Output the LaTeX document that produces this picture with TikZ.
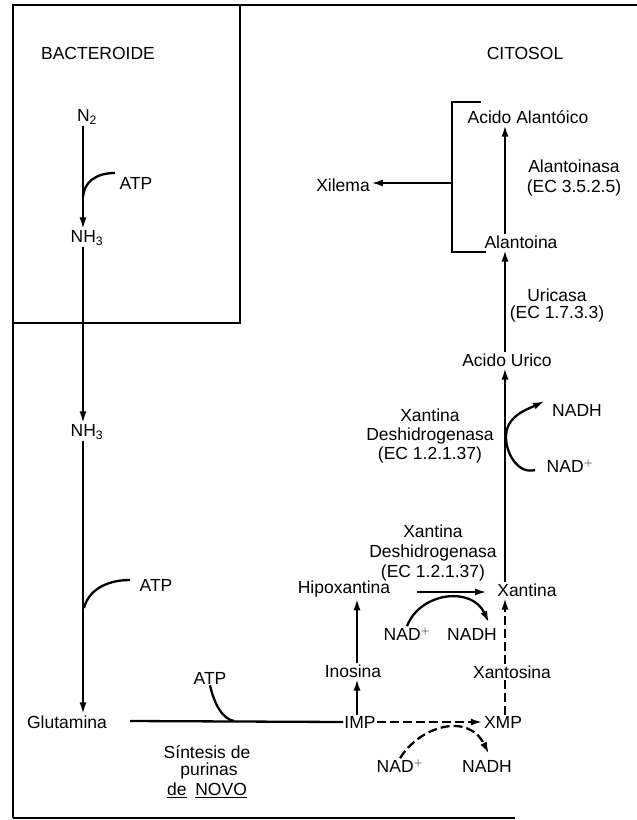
\documentclass[tikz,border=0pt]{standalone}
\usepackage{fontspec}
\setmainfont{Liberation Sans}
\usetikzlibrary{arrows.meta}
\begin{document}
\begin{tikzpicture}[x=1pt,y=-1pt,
  every node/.style={font=\fontsize{17.5}{19}\selectfont, inner sep=1pt},
  ln/.style={line width=2.3pt},
  arr/.style={ln, -{Latex[length=12pt,width=7pt]}},
  darr/.style={arr, dash pattern=on 9pt off 4pt},
  dln/.style={ln, dash pattern=on 9pt off 4pt},
  frame/.style={line width=2.6pt}]
\useasboundingbox (0,0) rectangle (637,820);
% frames
\draw[frame] (13,818) -- (13,5) -- (637,5);
\draw[frame] (13,818) -- (515,818);
\draw[frame] (13,323) -- (240,323) -- (240,5);
% column coordinates
\coordinate (cA) at (83,0);
\coordinate (cB) at (357,0);
\coordinate (cC) at (505,0);
% labels
\node (bact) at (98,53) {BACTEROIDE};
\node (cito) at (525,53) {CITOSOL};
\node (n2) at (87,117) {N$_{\mathrm 2}$};
\node (nh3a) at (87,238) {NH$_{\mathrm 3}$};
\node (nh3b) at (87,432) {NH$_{\mathrm 3}$};
\node (glu) at (67,722) {Glutamina};
\node (atp1) at (136,183) {ATP};
\node (atp2) at (156,585) {ATP};
\node (atp3) at (210,678) {ATP};
\node (s1) at (207,752) {Síntesis de};
\node (s2) at (209,771) {purinas};
\node (s3) at (207,790) {\underline{de}\enspace\underline{NOVO}};
\node (imp) at (360,722) {IMP};
\node (xmp) at (503,722) {XMP};
\node (ino) at (353,671) {Inosina};
\node (xto) at (512,672) {Xantosina};
\node (hipo) at (344,589) {Hipoxantina};
\node (xan) at (527,590) {Xantina};
\node[align=center, font=\fontsize{17.5}{20}\selectfont] (xdh1) at (433,553) {Xantina\\Deshidrogenasa\\(EC 1.2.1.37)};
\node (nadp1) at (407,634) {NAD$^{\mathbf +}$};
\node (nadh1) at (472,634) {NADH};
\node (nadp2) at (400,766) {NAD$^{\mathbf +}$};
\node (nadh2) at (487,766) {NADH};
\node (aur) at (507,360) {Acido Urico};
\node[align=center, font=\fontsize{17.5}{19}\selectfont] (xdh2) at (430,436) {Xantina\\Deshidrogenasa\\(EC 1.2.1.37)};
\node (nadh3) at (577,410) {NADH};
\node (nadp3) at (570,466) {NAD$^{\mathbf +}$};
\node (alo) at (521,242) {Alantoina};
\node[align=center, font=\fontsize{17.5}{17}\selectfont] (uric) at (557,305) {Uricasa\\(EC 1.7.3.3)};
\node (aal) at (528,117) {Acido Alantóico};
\node[align=center, font=\fontsize{17.5}{20}\selectfont] (alnasa) at (574,178) {Alantoinasa\\(EC 3.5.2.5)};
\node (xil) at (343,185) {Xilema};
% bacteroide column
\draw[arr] (n2.south -| cA) -- (nh3a.north -| cA);
\coordinate (a1) at (115,173);
\coordinate (j1) at (83,197);
\draw[ln] (a1) .. controls (96,173) and (84,182) .. (j1);
\draw[arr] (nh3a.south -| cA) -- (nh3b.north -| cA);
\draw[arr] (nh3b.south -| cA) -- (glu.north -| cA);
\coordinate (a2) at (130,580);
\coordinate (j2) at (84,608);
\draw[ln] (a2) .. controls (104,580) and (88,592) .. (j2);
% glutamina to IMP
\coordinate (g0) at (130,721);
\draw[ln] (g0) -- (imp.west);
\coordinate (j3) at (234,721);
\draw[ln] (atp3.south) .. controls (214,703) and (222,719) .. (j3);
% IMP branch
\draw[arr] (imp.north -| cB) -- (ino.south -| cB);
\draw[arr] (ino.north -| cB) -- (hipo.south -| cB);
\coordinate (h1) at (417,592);
\coordinate (h2) at (487,592);
\draw[arr] (h1) -- (h2);
\coordinate (t1) at (489,623);
\draw[arr] (nadp1.north) .. controls (420,592) and (472,586) .. (t1);
\draw[darr] (imp.east) -- (xmp.west);
\coordinate (t2) at (489,754);
\draw[darr] (nadp2.north) .. controls (420,726) and (468,712) .. (t2);
\draw[dln] (xmp.north -| cC) -- (xto.south -| cC);
\draw[darr] (xto.north -| cC) -- (xan.south -| cC);
% xantina to acido urico
\draw[arr] (xan.north -| cC) -- (aur.south -| cC);
\coordinate (k0) at (535,470);
\coordinate (k1) at (506,437);
\coordinate (k2) at (545,401);
\draw[ln] (k0) to[out=195,in=-90] (k1);
\draw[arr] (k1) to[out=90,in=205] (k2);
% upper
\draw[arr] (aur.north -| cC) -- (alo.south -| cC);
\draw[arr] (alo.north -| cC) -- (aal.south -| cC);
\coordinate (b1) at (481,102);
\coordinate (b2) at (452,102);
\coordinate (b3) at (452,252);
\coordinate (b4) at (486,252);
\draw[ln] (b1) -- (b2) -- (b3) -- (b4);
\coordinate (bx) at (452,183);
\draw[arr] (bx) -- (xil.east |- bx);
\end{tikzpicture}
\end{document}
